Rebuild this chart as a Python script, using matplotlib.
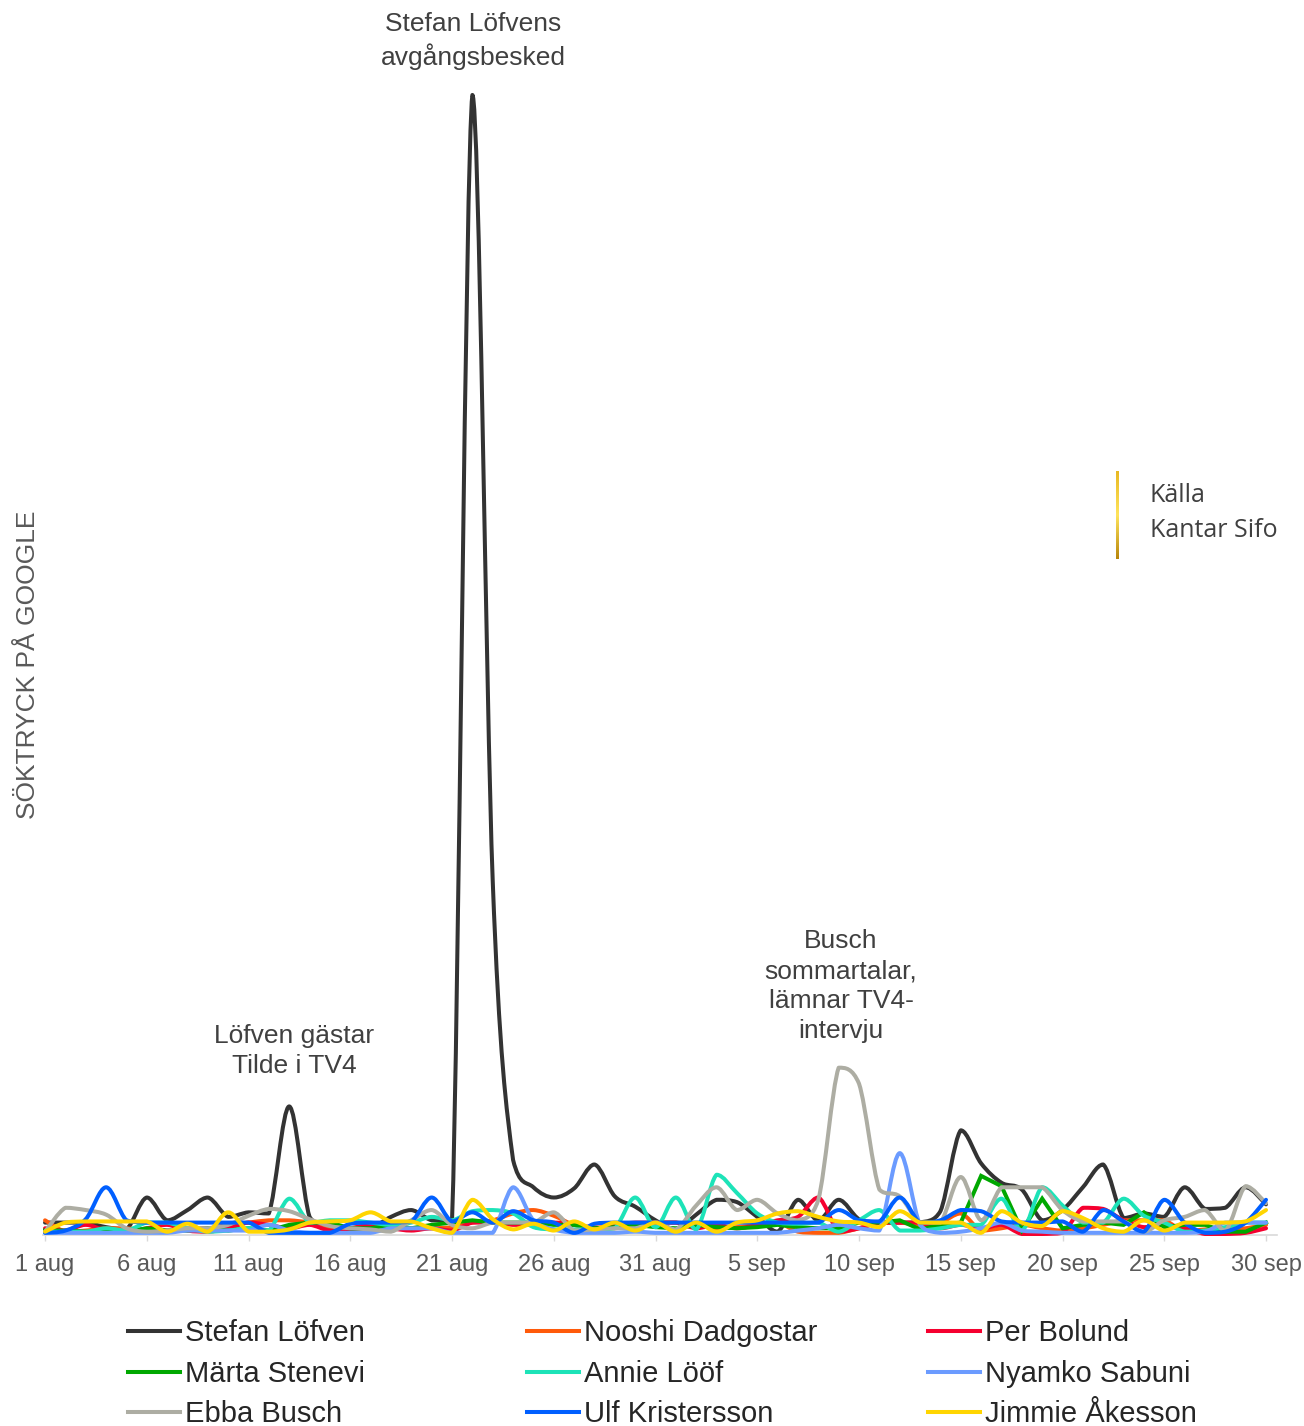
import numpy as np
import matplotlib
matplotlib.use("Agg")
import matplotlib.pyplot as plt
from matplotlib.path import Path
from matplotlib.patches import PathPatch
from matplotlib.lines import Line2D
from matplotlib.colors import LinearSegmentedColormap

plt.rcParams['font.family'] = ['Liberation Sans', 'DejaVu Sans']

# ---------------- data (search pressure index, 1 aug .. 30 sep) ----------------
days = np.arange(61)
tick_pos = [0, 5, 10, 15, 20, 25, 30, 35, 40, 45, 50, 55, 60]
tick_labels = ['1 aug', '6 aug', '11 aug', '16 aug', '21 aug', '26 aug', '31 aug',
               '5 sep', '10 sep', '15 sep', '20 sep', '25 sep', '30 sep']

stefan = [1.0, 1.0, 1.0, 0.6, 0.4, 3.2, 1.2, 2.1, 3.2, 1.5, 1.9, 1.8, 11.2, 1.5, 0.6, 0.4,
          0.5, 1.5, 2.1, 1.2, 1.2, 100, 31, 6.5, 4.1, 3.2, 4.0, 6.1, 3.3, 2.4, 1.2, 0.4,
          1.7, 3.0, 2.8, 1.5, 0.2, 3.0, 1.2, 3.0, 1.3, 1.0, 1.0, 1.0, 2.0, 9.1, 6.2, 4.5,
          3.9, 1.2, 2.1, 4.1, 6.1, 1.4, 1.8, 1.5, 4.1, 2.2, 2.3, 4.1, 2.6]
nooshi = [1.2, 0.2, 0.3, 0.5, 0.5, 0.3, 0.3, 0.5, 0.5, 0.8, 1.0, 1.2, 1.2, 1.0, 0.6, 0.5,
          0.8, 0.6, 0.5, 0.5, 0.6, 1.0, 1.2, 1.8, 2.1, 1.6, 0.8, 0.6, 0.5, 0.8, 1.0, 1.0,
          0.8, 0.5, 0.6, 0.8, 1.0, 0.2, 0.1, 0.1, 0.5, 1.0, 1.0, 0.8, 1.0, 1.8, 0.3, 0.5,
          0.8, 0.5, 0.3, 0.5, 0.8, 1.2, 1.2, 1.2, 0.2, 0.4, 0.4, 0.5, 0.8]
per = [0.5, 0.3, 0.8, 0.3, 0.2, 0.5, 0.8, 0.3, 0.2, 0.5, 1.0, 0.8, 0.5, 0.8, 0.3, 0.5,
       0.8, 0.5, 0.3, 0.5, 0.3, 1.0, 1.0, 0.8, 0.8, 1.0, 0.8, 0.5, 0.8, 1.0, 1.0, 1.0,
       0.5, 0.8, 0.5, 0.8, 1.2, 1.5, 3.2, 0.2, 0.5, 1.0, 1.0, 1.0, 0.5, 0.8, 0.5, 0.8,
       0.0, 0.0, 0.1, 2.3, 2.2, 1.2, 0.6, 0.8, 0.5, 0.0, 0.0, 0.1, 0.5]
marta = [0.3, 0.3, 0.2, 0.3, 0.2, 0.5, 0.3, 0.3, 0.5, 0.3, 0.5, 0.3, 0.8, 1.0, 1.0, 0.5,
         0.5, 0.8, 0.5, 0.8, 1.0, 1.2, 1.0, 1.0, 1.0, 0.8, 0.8, 0.5, 0.6, 0.8, 0.6, 0.5,
         0.8, 0.6, 0.5, 0.6, 0.8, 0.6, 0.5, 0.5, 1.0, 1.0, 1.2, 0.4, 0.8, 1.0, 5.1, 4.2,
         0.3, 3.1, 0.5, 0.8, 1.0, 0.8, 1.9, 0.6, 0.8, 0.8, 0.2, 0.2, 1.0]
annie = [0.2, 0.2, 0.2, 0.5, 0.3, 1.0, 1.0, 0.5, 0.2, 0.3, 0.5, 0.3, 3.1, 1.0, 1.2, 1.2,
         1.0, 0.8, 1.0, 1.5, 1.2, 2.0, 2.1, 1.8, 0.6, 0.4, 0.4, 0.4, 0.5, 3.2, 0.6, 3.2,
         0.4, 5.2, 3.6, 1.8, 1.0, 0.9, 1.0, 0.2, 1.2, 2.1, 0.3, 0.3, 0.5, 0.8, 0.8, 3.1,
         0.3, 4.1, 2.5, 1.0, 1.0, 3.1, 1.6, 1.0, 0.2, 0.3, 0.6, 1.0, 1.0]
nyamko = [0.1, 0.1, 0.1, 0.1, 0.1, 0.1, 0.1, 0.3, 0.3, 0.3, 0.3, 0.8, 0.3, 0.1, 0.1, 0.1,
          0.1, 0.5, 0.5, 0.5, 0.1, 0.1, 0.1, 4.1, 1.2, 0.4, 0.1, 0.1, 0.1, 0.2, 0.1, 0.1,
          0.1, 0.1, 0.1, 0.1, 0.1, 0.3, 0.5, 0.8, 0.5, 0.3, 7.1, 0.8, 0.1, 0.2, 0.5, 1.0,
          0.3, 0.2, 0.1, 0.1, 0.1, 0.1, 0.1, 0.1, 0.1, 0.2, 1.0, 1.0, 1.0]
ebba = [0.2, 2.3, 2.1, 1.7, 0.5, 0.2, 0.3, 0.5, 0.5, 0.8, 1.6, 2.2, 2.0, 1.3, 0.7, 0.5,
        0.4, 0.2, 1.2, 2.1, 0.8, 0.5, 1.0, 1.0, 1.0, 1.9, 0.3, 0.4, 0.5, 0.5, 1.0, 0.4,
        2.5, 4.1, 2.1, 3.0, 1.8, 1.2, 3.0, 14.6, 13.2, 3.9, 3.3, 1.0, 1.0, 5.0, 1.2, 4.1,
        4.1, 4.1, 2.1, 1.1, 1.1, 1.1, 0.2, 1.2, 1.5, 2.1, 0.3, 4.2, 2.7]
ulf = [0.1, 0.3, 1.3, 4.1, 1.2, 1.0, 1.0, 1.0, 1.0, 1.0, 1.0, 0.1, 0.1, 0.1, 0.1, 0.9,
       1.0, 1.0, 1.1, 3.2, 1.1, 1.9, 1.0, 2.0, 1.2, 1.0, 0.1, 0.9, 1.0, 1.0, 1.0, 1.0,
       1.0, 1.0, 1.0, 1.0, 1.0, 1.0, 1.0, 2.1, 1.2, 1.1, 3.2, 1.0, 1.2, 2.1, 2.0, 1.1,
       1.0, 1.0, 1.1, 0.2, 2.1, 1.1, 0.2, 3.0, 1.0, 0.1, 0.2, 1.0, 3.0]
jimmie = [0.2, 1.0, 1.1, 1.1, 1.1, 1.1, 0.2, 0.9, 0.2, 1.9, 0.2, 0.2, 0.4, 1.0, 1.1, 1.2,
          1.9, 1.1, 1.1, 0.5, 0.1, 3.0, 1.3, 0.4, 0.9, 0.3, 1.1, 0.4, 1.0, 0.3, 1.0, 0.2,
          1.0, 0.2, 1.0, 1.2, 1.8, 2.0, 1.5, 1.1, 1.0, 0.6, 2.0, 1.0, 1.0, 1.0, 0.1, 2.0,
          1.0, 0.7, 2.0, 1.4, 0.5, 0.2, 1.2, 0.3, 1.0, 1.0, 1.0, 1.1, 2.1]

names = ['Stefan Löfven', 'Nooshi Dadgostar', 'Per Bolund',
         'Märta Stenevi', 'Annie Lööf', 'Nyamko Sabuni',
         'Ebba Busch', 'Ulf Kristersson', 'Jimmie Åkesson']
series = [stefan, nooshi, per, marta, annie, nyamko, ebba, ulf, jimmie]
colors = ['#333333', '#FF5A0A', '#F5002F', '#00A800', '#1DE3B8', '#6B9BFF',
          '#ADADA3', '#005FFF', '#FFD500']
smooth = [True, True, True, False, True, True, True, True, True]

annotations = [
    ('Stefan Löfvens\navgångsbesked', 473, 41),
    ('Löfven gästar\nTilde i TV4', 294, 1051),
    ('Busch\nsommartalar,\nlämnar TV4-\nintervju', 841, 986),
]

# ---------------- figure ----------------
W, H = 1304, 1426
fig = plt.figure(figsize=(W / 100, H / 100), dpi=100)
fig.patch.set_facecolor('white')
ax = fig.add_axes([43 / W, 1 - 1235 / H, (1277 - 43) / W, (1235 - 60) / H])
ax.set_xlim(-0.1, 60.54)
ax.set_ylim(-0.09, 103.07)


def smooth_path(x, y):
    """Excel-like smoothed line: cubic Bezier segments, controls clamped to
    the segment's value range (no overshoot)."""
    pts = np.column_stack([x, y]).astype(float)
    n = len(pts)
    verts = [pts[0]]
    codes = [Path.MOVETO]
    for i in range(n - 1):
        p0 = pts[i - 1] if i > 0 else pts[i]
        p1 = pts[i]
        p2 = pts[i + 1]
        p3 = pts[i + 2] if i + 2 < n else pts[i + 1]
        c1 = p1 + (p2 - p0) / 6.0
        c2 = p2 - (p3 - p1) / 6.0
        lo, hi = min(p1[1], p2[1]), max(p1[1], p2[1])
        c1[1] = np.clip(c1[1], lo, hi)
        c2[1] = np.clip(c2[1], lo, hi)
        verts += [c1, c2, p2]
        codes += [Path.CURVE4] * 3
    return Path(verts, codes)


for k, (vals, col) in enumerate(zip(series, colors)):
    if smooth[k]:
        patch = PathPatch(smooth_path(days, vals), facecolor='none', edgecolor=col,
                          lw=2.9, capstyle='round', joinstyle='round',
                          zorder=2 + k, clip_on=False)
        ax.add_patch(patch)
    else:
        ax.plot(days, vals, color=col, lw=2.9, solid_joinstyle='miter',
                zorder=2 + k, clip_on=False)

for s in ['left', 'right', 'top']:
    ax.spines[s].set_visible(False)
ax.spines['bottom'].set_color('#D9D9D9')
ax.spines['bottom'].set_linewidth(1.2)
ax.set_yticks([])
ax.set_xticks(tick_pos)
ax.set_xticklabels(tick_labels)
ax.tick_params(axis='x', direction='out', length=4, width=1, color='#D9D9D9',
               labelsize=17, labelcolor='#595959', pad=10)

# y label
fig.text(28 / W, 1 - 665 / H, 'SÖKTRYCK PÅ GOOGLE', rotation=90, ha='center',
         va='center', fontsize=19, color='#595959')

# annotations
for txt, px, py in annotations:
    fig.text(px / W, 1 - py / H, txt, ha='center', va='center', fontsize=19,
             color='#404040', linespacing=1.3)

# source box with gold gradient bar
gax = fig.add_axes([1115.5 / W, 1 - 559 / H, 3 / W, 88 / H])
gold = LinearSegmentedColormap.from_list('gold', ['#B8860B', '#FFE45C', '#E8B923'])
gax.imshow(np.linspace(0, 1, 100).reshape(-1, 1), aspect='auto', cmap=gold,
           origin='lower')
gax.axis('off')
fig.text(1150 / W, 1 - 496 / H, 'Källa', ha='left', va='center', fontsize=18,
         color='#404040', family=['Open Sans', 'DejaVu Sans'])
fig.text(1150 / W, 1 - 531 / H, 'Kantar Sifo', ha='left', va='center', fontsize=18,
         color='#404040', family=['Open Sans', 'DejaVu Sans'])

# legend (3 columns, row-major)
col_x = [128, 527, 928]
row_y = [1333, 1374, 1414]
for i, (nm, col) in enumerate(zip(names, colors)):
    cx = col_x[i % 3]
    ry = row_y[i // 3]
    fig.add_artist(Line2D([cx / W, (cx + 52) / W], [1 - (ry - 2) / H, 1 - (ry - 2) / H],
                          color=col, lw=2.9, transform=fig.transFigure))
    fig.text((cx + 57) / W, 1 - ry / H, nm, ha='left', va='center', fontsize=21,
             color='#262626')

fig.savefig('out.png', dpi=100, facecolor='white')
